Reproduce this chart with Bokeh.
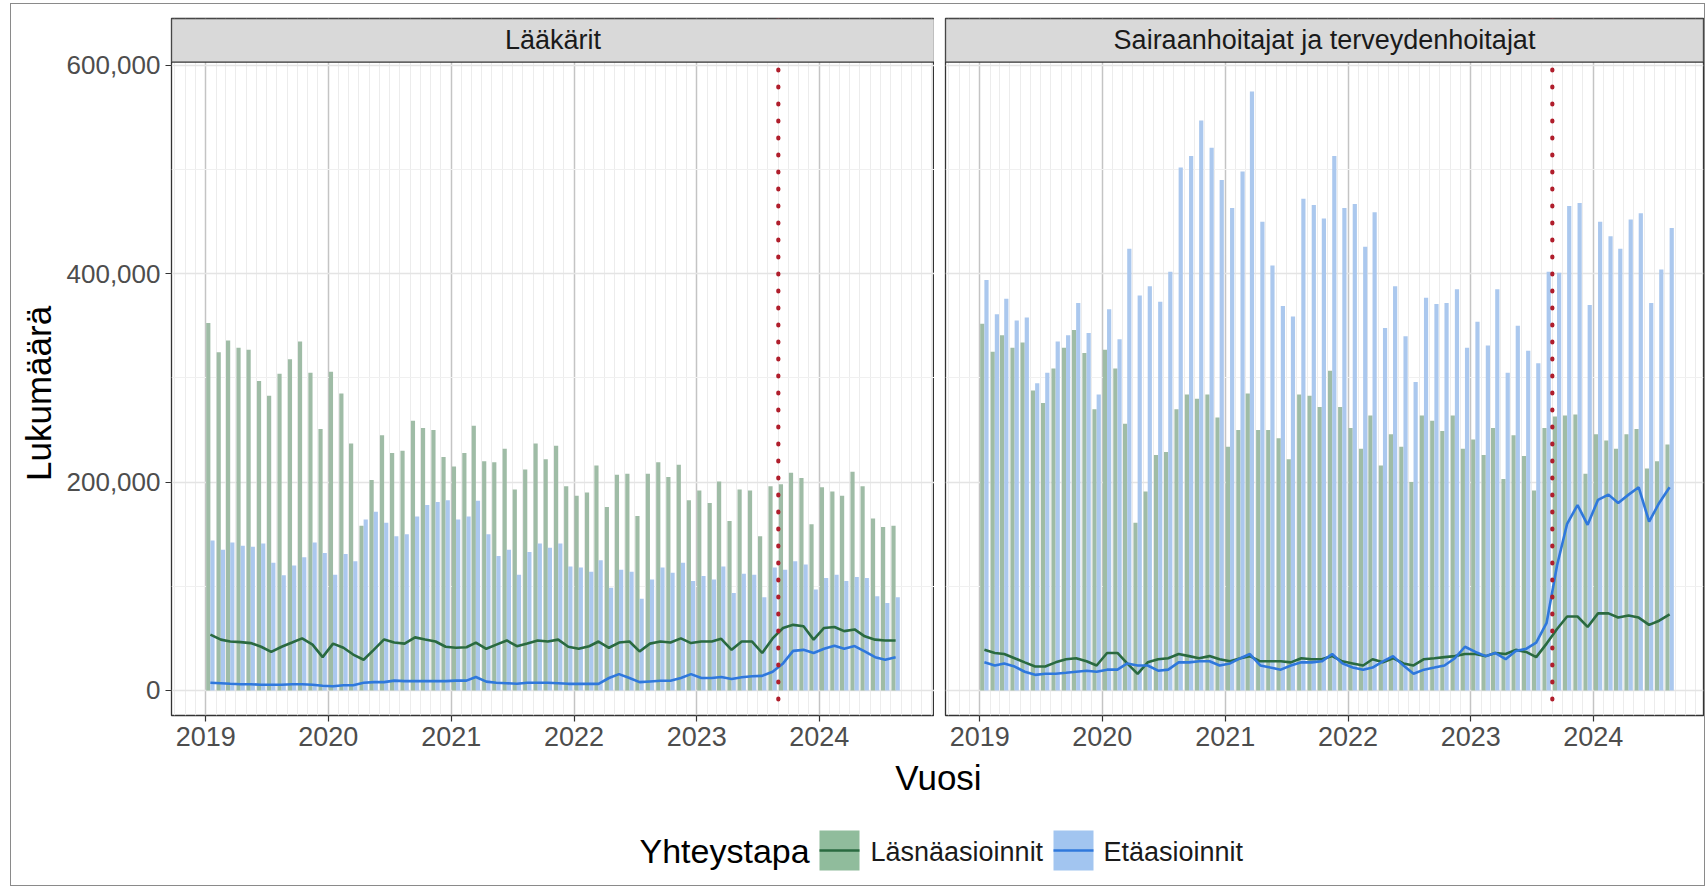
import math
import pandas as pd
from bokeh.plotting import figure
from bokeh.layouts import column, row
from bokeh.models import (Range1d, FixedTicker, NumeralTickFormatter,
                          DatetimeTickFormatter, Span, Label, BoxAnnotation)
from bokeh.embed import file_html
from bokeh.resources import INLINE

# ---------------- data ----------------
months = pd.date_range("2019-01-01", "2024-08-01", freq="MS")  # 68 months
panels = ["Lääkärit", "Sairaanhoitajat ja terveydenhoitajat"]
series = ["Läsnäasioinnit", "Etäasioinnit"]
legend_title = "Yhteystapa"
x_title = "Vuosi"
y_title = "Lukumäärä"
year_ticks = [2019, 2020, 2021, 2022, 2023, 2024]
y_ticks = [0, 200000, 400000, 600000]
y_minor = [100000, 300000, 500000]
marker_date = "2023-09-01"

# Lääkärit – bars
laak_lasna_bar = [352600, 324700, 336000, 329000, 327000, 297000, 283000, 304000, 318000, 335000,
                  305000, 251000, 306000, 285000, 237000, 158000, 202000, 245000, 228000, 230000,
                  259000, 252000, 250000, 224000, 215000, 228000, 254000, 220000, 219000, 232000,
                  193000, 212000, 237000, 222000, 235000, 196000, 187000, 190000, 216000, 176000,
                  207000, 208000, 167500, 208000, 219000, 205000, 216600, 182500, 192000, 180000,
                  200500, 162700, 193000, 192000, 148000, 196000, 198000, 209000, 204000, 159500,
                  195000, 191000, 187000, 210000, 196000, 165000, 157000, 158000]
laak_eta_bar = [144000, 135000, 142000, 139000, 138000, 141000, 122500, 110700, 120000, 128000,
                142000, 132000, 111000, 131000, 124000, 164000, 171600, 161000, 148000, 150000,
                167000, 178000, 181000, 182500, 164000, 167000, 182000, 150000, 129000, 135000,
                111000, 133000, 141000, 137000, 141000, 119000, 118000, 114000, 125000, 98500,
                116000, 114000, 88000, 106500, 118000, 113000, 122500, 105000, 110000, 106500,
                119000, 93600, 112000, 111000, 89500, 118000, 116000, 124000, 121000, 97000,
                108000, 111000, 105000, 109000, 108000, 90500, 84000, 89500]
# Lääkärit – lines
laak_lasna_line = [53600, 48800, 47000, 46400, 45500, 42000, 37000, 42000, 46000, 50000,
                   44000, 32000, 45000, 41000, 34500, 29500, 39000, 49000, 46000, 45000,
                   51000, 49000, 47000, 42000, 41000, 41500, 46000, 40000, 44000, 48000,
                   42500, 45000, 48000, 47000, 48800, 42000, 40000, 42500, 47000, 41000,
                   46000, 47000, 37500, 45000, 47000, 46000, 50000, 45500, 47000, 47000,
                   49600, 39000, 47000, 47000, 36000, 50000, 60000, 63000, 61600, 48800,
                   60000, 61000, 57000, 58600, 52000, 48800, 48000, 48000]
laak_eta_line = [7500, 7000, 6500, 6000, 6000, 5500, 5500, 5500, 6000, 6000,
                 5500, 4500, 4000, 5000, 5000, 7500, 8000, 8000, 9500, 9000,
                 9000, 9000, 9000, 9000, 9500, 9500, 13000, 8500, 7500, 7000,
                 6500, 7500, 7500, 7500, 7000, 6400, 6400, 6400, 6400, 12000,
                 15700, 12000, 8000, 8700, 9300, 9300, 12000, 15700, 12000, 12000,
                 13000, 11000, 12700, 13600, 14000, 18000, 26000, 38000, 39000, 36000,
                 40000, 43000, 40000, 42600, 37500, 32000, 29500, 32000]

# Sairaanhoitajat ja terveydenhoitajat – bars
sh_lasna_bar = [352000, 325000, 341000, 329000, 334000, 288000, 276000, 309000, 329000, 346000,
                324000, 270000, 327000, 309000, 256000, 161000, 191000, 226000, 229000, 270000,
                284000, 280000, 284000, 262000, 234000, 250000, 285000, 250000, 250000, 242000,
                222000, 284000, 283000, 272000, 307000, 272000, 252000, 232000, 264000, 216000,
                246000, 234000, 200000, 264000, 259000, 249000, 264000, 232000, 241000, 226000,
                252000, 203000, 245000, 225000, 192000, 252000, 263000, 264000, 265000, 208000,
                246000, 240000, 232000, 246000, 251000, 213000, 220000, 236000]
sh_eta_bar = [394000, 361000, 376000, 355000, 358000, 295000, 305000, 335000, 341000, 372000,
              343000, 284000, 366000, 337000, 424000, 379000, 388000, 373000, 402000, 502000,
              513000, 547000, 521000, 490000, 463000, 498000, 575000, 450000, 408000, 369000,
              359000, 472000, 466000, 453000, 513000, 463000, 467000, 426000, 459000, 348000,
              388000, 340000, 296000, 377000, 371000, 372000, 385000, 329000, 354000, 331000,
              385000, 305000, 350000, 326000, 314000, 402000, 401000, 465000, 468000, 370000,
              450000, 436000, 424000, 452000, 458000, 372000, 404000, 444000]
# Sairaanhoitajat ja terveydenhoitajat – lines
sh_lasna_line = [39000, 36000, 35000, 31000, 27000, 23000, 23000, 27000, 30000, 31000,
                 28000, 24000, 36000, 36000, 26000, 16000, 27000, 30000, 31000, 35000,
                 33000, 31000, 33000, 30000, 28000, 31000, 33000, 28000, 28000, 28000,
                 27000, 31000, 30000, 30000, 33000, 28000, 26000, 24000, 30000, 27000,
                 31000, 26000, 24000, 30000, 31000, 32000, 33000, 35000, 35000, 33000,
                 36000, 35000, 39000, 37000, 32000, 45000, 59000, 71000, 71000, 61000,
                 74000, 74000, 70000, 72000, 70000, 63000, 67000, 73000]
sh_eta_line = [27000, 24000, 26000, 23000, 18000, 15000, 16000, 16000, 17000, 18000,
               19000, 18000, 20000, 20000, 26000, 24000, 24000, 19000, 20000, 27000,
               27000, 28000, 28000, 24000, 26000, 31000, 35000, 24000, 22000, 20000,
               24000, 27000, 27000, 28000, 35000, 26000, 22000, 20000, 22000, 28000,
               33000, 24000, 16000, 20000, 22000, 24000, 31000, 42000, 37000, 33000,
               36000, 30000, 38000, 40000, 46000, 65000, 120000, 160000, 178000, 159000,
               183000, 188000, 180000, 188000, 195000, 162000, 180000, 195000]

for arr in (laak_lasna_bar, laak_eta_bar, laak_lasna_line, laak_eta_line,
            sh_lasna_bar, sh_eta_bar, sh_lasna_line, sh_eta_line):
    assert len(arr) == len(months), len(arr)

# ---------------- style / geometry ----------------
GREEN_FILL = "#9fbca6"
BLUE_FILL = "#abc8ee"
GREEN_KEY = "#90bc9c"
BLUE_KEY = "#a2c5f0"
GREEN_LINE = "#2a6a40"
BLUE_LINE = "#2f78dc"
FONT = "Liberation Sans"
DAY_MS = 86400000.0

OX, OY = 11, 4            # page position of the inner layout origin
TITLE_W = 50              # column holding the y-axis title
FRAME_W1 = 763            # left panel frame width
FRAME_W2 = 758            # right panel frame width (cropped at the edge)
FRAME_TOP = 18.5          # strip top (page px)
PANEL_TOP = 62            # strip bottom / panel top
FRAME_BOT = 715           # panel bottom
CANVAS_BOT = 757
Y_BOTTOM = -24000
PX_PER_UNIT = (690 - 65.3) / 600000.0
Y_PANEL_TOP = Y_BOTTOM + (FRAME_BOT - PANEL_TOP) / PX_PER_UNIT
Y_TOP = Y_BOTTOM + (FRAME_BOT - FRAME_TOP) / PX_PER_UNIT

bar_w_days = 12.5
bar_w = bar_w_days * DAY_MS
mid = months + pd.Timedelta(days=14)
x_green = mid - pd.Timedelta(days=bar_w_days / 2)
x_blue = mid + pd.Timedelta(days=bar_w_days / 2)


def ms(ts):
    return pd.Timestamp(ts).value / 1e6


lo = ms(mid[0]) - bar_w
hi = ms(mid[-1]) + bar_w
pad = 0.05 * (hi - lo)
x_start, x_end = lo - pad, hi + pad
ms_per_px = (x_end - x_start) / FRAME_W1

major_x = [ms(f"{y}-01-01") for y in year_ticks]
minor_x = [ms(t) for t in pd.date_range("2018-09-01", "2025-01-01", freq="MS")]
fmt = DatetimeTickFormatter(years="%Y", months="%Y", days="%Y", hours="%Y",
                            minutes="%Y", seconds="%Y", milliseconds="%Y",
                            microseconds="%Y", minsec="%Y", hourmin="%Y")


def make_panel(title, lasna_bar, eta_bar, lasna_line, eta_line, first):
    if first:
        mb_left, mb_right, fw = 171 - OX - TITLE_W, 0, FRAME_W1
    else:
        mb_left, mb_right, fw = 11, 1, FRAME_W2
    w = mb_left + fw + mb_right
    xr = Range1d(x_start, x_start + fw * ms_per_px)

    p = figure(width=w, height=CANVAS_BOT - OY, min_border_left=mb_left,
               min_border_right=mb_right, min_border_top=round(FRAME_TOP - OY),
               min_border_bottom=CANVAS_BOT - FRAME_BOT, x_axis_type="datetime",
               x_range=xr, y_range=Range1d(Y_BOTTOM, Y_TOP),
               toolbar_location=None, output_backend="svg")
    p.background_fill_color = "white"
    p.border_fill_color = "white"
    p.outline_line_color = "#333333"
    p.outline_line_width = 1.3

    xt = FixedTicker(ticks=major_x, minor_ticks=minor_x)
    yt = FixedTicker(ticks=y_ticks, minor_ticks=y_minor)
    p.xaxis.ticker = xt
    p.xgrid.ticker = xt
    p.yaxis.ticker = yt
    p.ygrid.ticker = yt
    p.xaxis.formatter = fmt
    p.yaxis.formatter = NumeralTickFormatter(format="0,0")

    p.xgrid.grid_line_color = "#c4c4c4"
    p.xgrid.grid_line_width = 1.5
    p.xgrid.minor_grid_line_color = "#ececec"
    p.xgrid.minor_grid_line_width = 1
    p.ygrid.grid_line_color = "#e4e4e4"
    p.ygrid.grid_line_width = 1.3
    p.ygrid.minor_grid_line_color = "#f0f0f0"
    p.ygrid.minor_grid_line_width = 1

    for ax in (p.xaxis[0], p.yaxis[0]):
        ax.axis_line_color = None
        ax.major_tick_line_color = "#333333"
        ax.major_tick_line_width = 1.2
        ax.major_tick_out = 6
        ax.major_tick_in = 0
        ax.minor_tick_line_color = None
        ax.major_label_text_font = FONT
        ax.major_label_text_color = "#4d4d4d"
    p.xaxis.major_label_text_font_size = "27px"
    p.xaxis.major_label_standoff = 5
    p.yaxis.major_label_text_font_size = "26px"
    p.yaxis.major_label_standoff = 5
    if not first:
        p.yaxis.visible = False

    p.vbar(x=x_green, width=bar_w, top=lasna_bar, bottom=0,
           fill_color=GREEN_FILL, line_color=None)
    p.vbar(x=x_blue, width=bar_w, top=eta_bar, bottom=0,
           fill_color=BLUE_FILL, line_color=None)
    p.line(x=mid, y=lasna_line, line_color=GREEN_LINE, line_width=2.6)
    p.line(x=mid, y=eta_line, line_color=BLUE_LINE, line_width=2.6)

    p.add_layout(Span(location=ms(marker_date), dimension="height",
                      line_color="#b01e2c", line_width=4.2, line_dash="1 16",
                      line_cap="round"))
    # facet strip
    p.add_layout(BoxAnnotation(bottom=Y_PANEL_TOP, fill_color="#d9d9d9", fill_alpha=1.0,
                               line_color="#333333", line_width=1.3, line_alpha=1.0))
    p.add_layout(Label(x=x_start + fw * ms_per_px / 2, y=(Y_PANEL_TOP + Y_TOP) / 2,
                       text=title, text_align="center", text_baseline="middle",
                       text_font=FONT, text_font_size="27px", text_color="#1a1a1a"))
    return p


p1 = make_panel(panels[0], laak_lasna_bar, laak_eta_bar, laak_lasna_line, laak_eta_line, True)
p2 = make_panel(panels[1], sh_lasna_bar, sh_eta_bar, sh_lasna_line, sh_eta_line, False)

# ---------------- y-axis title column ----------------
t = figure(width=TITLE_W, height=CANVAS_BOT - OY, x_range=Range1d(OX, OX + TITLE_W),
           y_range=Range1d(CANVAS_BOT, OY), x_axis_type=None, y_axis_type=None,
           min_border_left=0, min_border_right=0, min_border_top=0, min_border_bottom=0,
           toolbar_location=None, output_backend="svg")
t.outline_line_color = None
t.add_layout(Label(x=38, y=409, text=y_title, angle=math.pi / 2, text_align="center",
                   text_baseline="middle", text_font=FONT, text_font_size="35px",
                   text_color="black"))

# ---------------- bottom: x title + legend ----------------
TOTAL_W = t.width + p1.width + p2.width
B_BOT = 885
b = figure(width=TOTAL_W, height=B_BOT - CANVAS_BOT, x_range=Range1d(OX, OX + TOTAL_W),
           y_range=Range1d(B_BOT, CANVAS_BOT), x_axis_type=None, y_axis_type=None,
           min_border_left=0, min_border_right=0, min_border_top=0, min_border_bottom=0,
           toolbar_location=None, output_backend="svg")
b.outline_line_color = None
b.add_layout(Label(x=938, y=777, text=x_title, text_align="center", text_baseline="middle",
                   text_font=FONT, text_font_size="35px", text_color="black"))
b.add_layout(Label(x=639, y=850, text=legend_title, text_align="left", text_baseline="middle",
                   text_font=FONT, text_font_size="34px", text_color="black"))
key_specs = [(839, GREEN_KEY, GREEN_LINE, 870, series[0]),
             (1073, BLUE_KEY, BLUE_LINE, 1103, series[1])]
for cx, fill, line, tx, lab in key_specs:
    b.quad(left=[cx - 20], right=[cx + 20], top=[830], bottom=[870],
           fill_color=fill, line_color=None)
    b.segment(x0=[cx - 20], x1=[cx + 20], y0=[850], y1=[850],
              line_color=line, line_width=2.6)
    b.add_layout(Label(x=tx, y=851, text=lab, text_align="left", text_baseline="middle",
                       text_font=FONT, text_font_size="27px", text_color="#1a1a1a"))

layout = column(row(t, p1, p2), b,
                styles={"border": "1px solid #8a8a8a", "margin-left": "10px",
                        "margin-top": "3px"})

open("out.html", "w").write(file_html(layout, INLINE, "Yhteystapa"))
